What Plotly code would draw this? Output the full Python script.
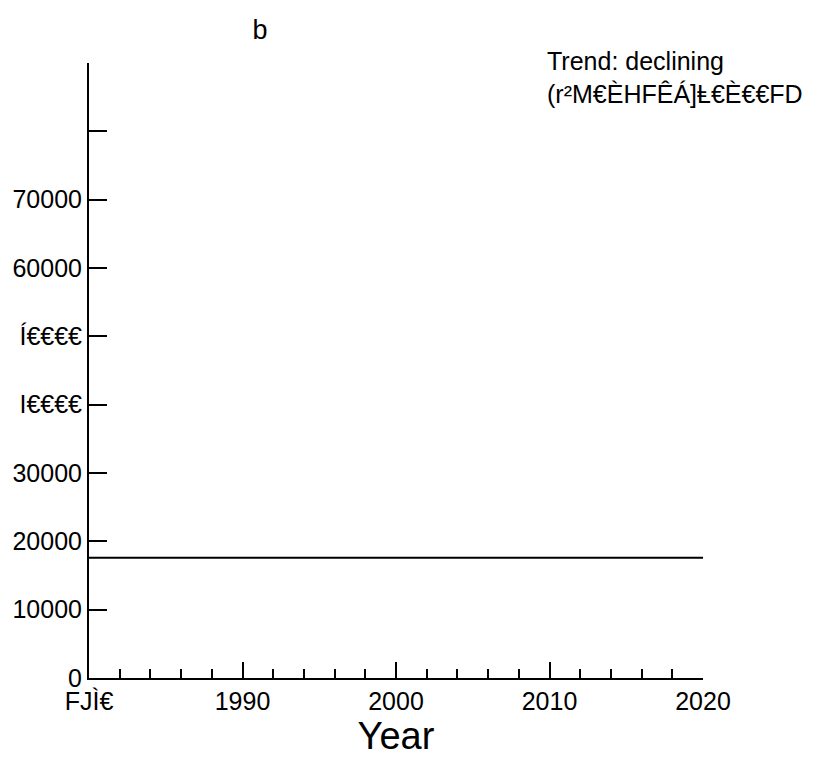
import plotly.graph_objects as go

years = [1980, 2020]
values = [17600, 17600]
xtick_vals = [1980, 1990, 2000, 2010, 2020]
xtick_text = ["FJÌ€", "1990", "2000", "2010", "2020"]
ytick_vals = [0, 10000, 20000, 30000, 40000, 50000, 60000, 70000, 80000, 90000]
ytick_text = ["0", "10000", "20000", "30000", "I€€€€", "Í€€€€", "60000", "70000", "", ""]

fig = go.Figure(go.Scatter(x=years, y=values, mode="lines",
                           line=dict(color="black", width=2), showlegend=False))
tf = dict(family="Liberation Sans, Arial", size=25, color="black")
fig.update_layout(
    width=813, height=763, plot_bgcolor="white", paper_bgcolor="white",
    margin=dict(l=81, r=118, t=55, b=93, autoexpand=False), font=tf,
    title=dict(text="b", x=252/813, xanchor="center", y=1-22/763, yanchor="middle",
               xref="container", yref="container", font=dict(size=27)),
    xaxis=dict(range=[1980, 2020], tickvals=xtick_vals, ticktext=xtick_text,
               ticks="inside", ticklen=16, tickwidth=1.5, tickcolor="black",
               showline=True, linecolor="black", linewidth=2, showgrid=False,
               zeroline=False, automargin=False, tickfont=tf,
               minor=dict(dtick=2, ticks="inside", ticklen=9, tickwidth=1.5, tickcolor="black"),
               title=dict(text="Year", font=dict(size=38), standoff=0)),
    yaxis=dict(range=[0, 90000], tickvals=ytick_vals, ticktext=ytick_text,
               ticks="inside", ticklen=18, tickwidth=1.5, tickcolor="black",
               showline=True, linecolor="black", linewidth=2, showgrid=False,
               zeroline=False, automargin=False, tickfont=tf),
    annotations=[dict(text="Trend: declining<br>(r²M€ÈHFÊÁ]Ⱡ€È€€FD",
                      x=(545-89)/614, y=1+(63-45)/615, xref="paper", yref="paper",
                      xanchor="left", yanchor="top", align="left", showarrow=False,
                      font=dict(size=25))],
)
fig.write_html("out.html")
